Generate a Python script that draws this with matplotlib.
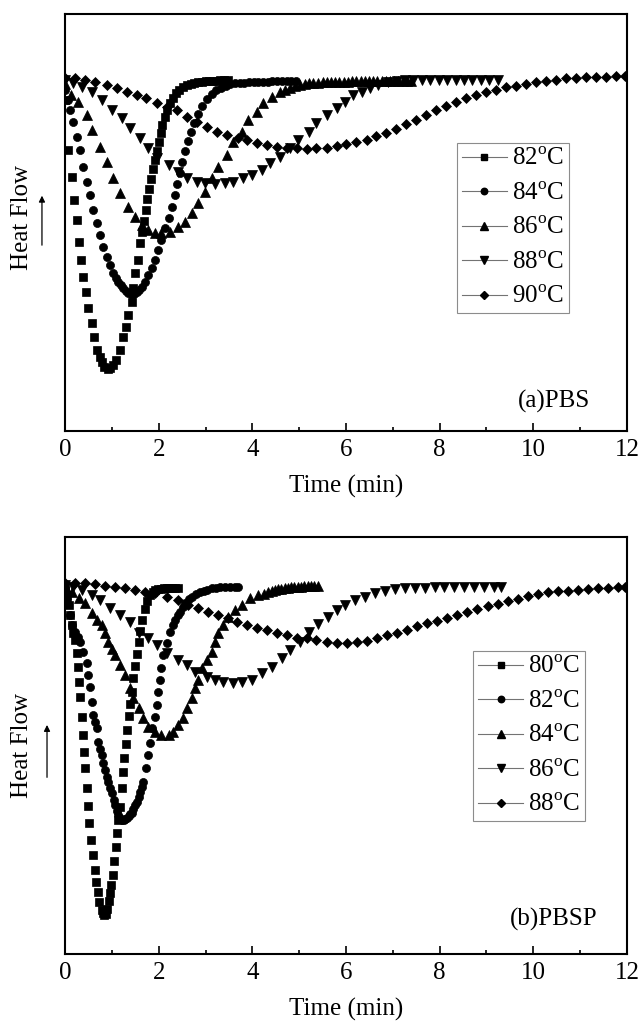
import matplotlib
matplotlib.use("Agg")
import matplotlib.pyplot as plt
from matplotlib.lines import Line2D
from matplotlib.ticker import MultipleLocator

plt.rcParams['font.family'] = ['Liberation Serif', 'DejaVu Serif']
plt.rcParams['mathtext.fontset'] = 'custom'
plt.rcParams['mathtext.rm'] = 'Liberation Serif'

# ---- (a) PBS, heat flow in arbitrary units (exo down) ----
pbs_labels = ["82", "84", "86", "88", "90"]

t_pbs_82 = [0.00, 0.07, 0.14, 0.19, 0.25, 0.30, 0.34, 0.39, 0.45, 0.50, 0.57, 0.62, 0.69, 0.74, 0.78,
            0.84, 0.91, 0.97, 1.02, 1.09, 1.17, 1.24, 1.30, 1.35, 1.42, 1.46, 1.49, 1.55, 1.60, 1.64,
            1.68, 1.72, 1.76, 1.80, 1.84, 1.88, 1.92, 1.96, 2.00, 2.04, 2.08, 2.13, 2.18, 2.24, 2.30,
            2.37, 2.44, 2.52, 2.60, 2.68, 2.76, 2.84, 2.92, 3.00, 3.08, 3.16, 3.24, 3.32, 3.40, 3.48]
hf_pbs_82 = [-2.0, -7.0, -9.7, -12.0, -14.0, -16.2, -18.0, -19.7, -21.2, -22.8, -24.3, -25.7, -27.0, -27.7, -28.2,
             -28.7, -28.9, -28.8, -28.5, -28.0, -27.0, -25.7, -24.7, -23.5, -22.2, -20.8, -19.3, -18.0, -16.3, -15.2,
             -14.1, -13.0, -11.9, -10.9, -9.9, -8.9, -8.0, -7.1, -6.2, -5.3, -4.5, -3.7, -3.0, -2.3, -1.8,
             -1.3, -1.0, -0.7, -0.5, -0.4, -0.3, -0.25, -0.2, -0.15, -0.12, -0.1, -0.08, -0.05, -0.03, 0.0]

t_pbs_84 = [0.00, 0.07, 0.11, 0.18, 0.25, 0.32, 0.39, 0.46, 0.53, 0.60, 0.68, 0.75, 0.82, 0.89, 0.96,
            1.03, 1.09, 1.14, 1.19, 1.24, 1.30, 1.35, 1.42, 1.48, 1.53, 1.59, 1.64, 1.71, 1.78, 1.85,
            1.92, 1.99, 2.06, 2.14, 2.21, 2.28, 2.35, 2.40, 2.45, 2.50, 2.56, 2.62, 2.69, 2.76, 2.84,
            2.93, 3.03, 3.13, 3.23, 3.33, 3.43, 3.53, 3.63, 3.73, 3.83, 3.93, 4.03, 4.13, 4.23, 4.33,
            4.43, 4.53, 4.63, 4.73, 4.83, 4.93]
hf_pbs_84 = [-1.0, -2.0, -3.0, -4.2, -5.7, -7.0, -8.7, -10.2, -11.5, -13.0, -14.3, -15.5, -16.7, -17.7, -18.5,
             -19.3, -19.8, -20.2, -20.5, -20.8, -21.1, -21.3, -21.5, -21.4, -21.2, -21.0, -20.7, -20.2, -19.5, -18.8,
             -18.0, -17.0, -16.0, -14.8, -13.8, -12.7, -11.5, -10.4, -9.3, -8.2, -7.1, -6.1, -5.2, -4.3, -3.4,
             -2.6, -1.9, -1.4, -1.0, -0.8, -0.6, -0.45, -0.35, -0.3, -0.27, -0.24, -0.22, -0.2, -0.18, -0.16,
             -0.14, -0.13, -0.12, -0.11, -0.1, -0.1]

t_pbs_86 = [0.00, 0.12, 0.28, 0.46, 0.58, 0.75, 0.89, 1.03, 1.17, 1.35, 1.49, 1.64, 1.78, 1.92, 2.06,
            2.24, 2.42, 2.56, 2.71, 2.85, 2.99, 3.13, 3.27, 3.45, 3.59, 3.77, 3.91, 4.09, 4.23, 4.41,
            4.59, 4.70, 4.80, 4.91, 5.02, 5.12, 5.21, 5.30, 5.40, 5.50, 5.59, 5.68, 5.77, 5.86, 5.95,
            6.04, 6.13, 6.22, 6.31, 6.40, 6.49, 6.58, 6.67, 6.76, 6.85, 6.94, 7.03, 7.12, 7.21, 7.30, 7.39]
hf_pbs_86 = [-0.4, -1.5, -2.2, -3.5, -5.0, -6.7, -8.2, -9.8, -11.3, -12.7, -13.7, -14.5, -15.0, -15.3, -15.3,
             -15.2, -14.7, -14.2, -13.3, -12.3, -11.2, -9.8, -8.7, -7.5, -6.2, -5.2, -4.0, -3.2, -2.3, -1.7,
             -1.2, -1.0, -0.8, -0.65, -0.5, -0.42, -0.35, -0.3, -0.26, -0.23, -0.2, -0.2, -0.19, -0.18, -0.17,
             -0.16, -0.15, -0.15, -0.14, -0.13, -0.12, -0.12, -0.11, -0.1, -0.1, -0.1, -0.1, -0.1, -0.1, -0.1, -0.1]

t_pbs_88 = [0.00, 0.18, 0.37, 0.57, 0.78, 1.00, 1.21, 1.39, 1.60, 1.78, 1.96, 2.21, 2.42, 2.60, 2.81,
            2.99, 3.20, 3.42, 3.59, 3.81, 3.99, 4.20, 4.38, 4.59, 4.80, 4.98, 5.20, 5.37, 5.59, 5.80,
            5.98, 6.16, 6.34, 6.51, 6.69, 6.90, 7.08, 7.26, 7.44, 7.62, 7.80, 7.98, 8.16, 8.34, 8.52,
            8.70, 8.88, 9.06, 9.24]
hf_pbs_88 = [0.0, -0.3, -0.7, -1.2, -2.0, -3.0, -3.8, -4.8, -5.8, -6.8, -7.8, -8.5, -9.2, -9.8, -10.2,
             -10.3, -10.4, -10.3, -10.2, -9.8, -9.5, -9.0, -8.3, -7.7, -6.8, -6.0, -5.2, -4.3, -3.5, -2.8,
             -2.2, -1.5, -1.2, -0.8, -0.5, -0.2, -0.1, -0.05, 0.0, 0.0, 0.0, 0.0, 0.0, 0.0, 0.0,
             0.0, 0.0, 0.0, 0.0]

t_pbs_90 = [0.00, 0.21, 0.43, 0.64, 0.89, 1.10, 1.32, 1.53, 1.74, 1.96, 2.17, 2.39, 2.61, 2.82, 3.03,
            3.24, 3.45, 3.70, 3.88, 4.09, 4.31, 4.52, 4.73, 4.95, 5.16, 5.37, 5.59, 5.80, 6.01, 6.22,
            6.44, 6.65, 6.86, 7.07, 7.29, 7.50, 7.71, 7.93, 8.14, 8.35, 8.57, 8.78, 8.99, 9.21, 9.42,
            9.63, 9.85, 10.06, 10.27, 10.49, 10.70, 10.91, 11.13, 11.34, 11.55, 11.77, 11.96]
hf_pbs_90 = [0.2, 0.2, 0.0, -0.2, -0.5, -0.8, -1.2, -1.5, -1.8, -2.3, -2.7, -3.0, -3.7, -4.2, -4.7,
             -5.2, -5.5, -5.8, -6.0, -6.3, -6.5, -6.7, -6.8, -6.8, -6.9, -6.8, -6.8, -6.65, -6.45, -6.25,
             -6.0, -5.6, -5.3, -4.9, -4.45, -4.0, -3.5, -3.0, -2.6, -2.2, -1.8, -1.5, -1.25, -1.05, -0.75,
             -0.6, -0.4, -0.25, -0.15, -0.05, 0.15, 0.2, 0.25, 0.3, 0.3, 0.35, 0.4]

# ---- (b) PBSP ----
pbsp_labels = ["80", "82", "84", "86", "88"]

t_pbsp_80 = [0.00, 0.04, 0.08, 0.11, 0.15, 0.18, 0.21, 0.25, 0.28, 0.30, 0.32, 0.36, 0.39, 0.41, 0.43,
             0.46, 0.50, 0.52, 0.55, 0.59, 0.63, 0.66, 0.70, 0.73, 0.78, 0.81, 0.84, 0.87, 0.90, 0.93,
             0.96, 0.99, 1.02, 1.05, 1.08, 1.11, 1.14, 1.17, 1.21, 1.24, 1.27, 1.30, 1.33, 1.36, 1.39,
             1.42, 1.46, 1.49, 1.53, 1.57, 1.61, 1.65, 1.70, 1.75, 1.81, 1.87, 1.93, 1.99, 2.05, 2.11,
             2.17, 2.23, 2.29, 2.35, 2.41]
hf_pbsp_80 = [-0.3, -1.0, -2.0, -3.0, -4.0, -4.8, -5.5, -6.8, -8.2, -9.7, -11.2, -13.2, -15.0, -16.7, -18.3,
              -20.3, -22.1, -23.8, -25.5, -27.0, -28.5, -29.7, -30.7, -31.7, -32.5, -32.8, -33.0, -32.9, -32.4, -31.6,
              -30.8, -30.0, -29.0, -27.6, -26.2, -24.8, -23.5, -22.2, -20.3, -18.7, -17.3, -15.9, -14.5, -13.1, -11.9,
              -10.7, -9.3, -8.1, -6.9, -5.7, -4.6, -3.5, -2.4, -1.6, -1.0, -0.7, -0.5, -0.4, -0.35, -0.3,
              -0.3, -0.3, -0.3, -0.3, -0.3]

t_pbsp_82 = [0.00, 0.05, 0.10, 0.15, 0.21, 0.27, 0.32, 0.39, 0.46, 0.50, 0.53, 0.57, 0.60, 0.64, 0.68,
             0.71, 0.75, 0.78, 0.82, 0.85, 0.89, 0.92, 0.96, 1.00, 1.04, 1.07, 1.11, 1.14, 1.18, 1.21,
             1.25, 1.29, 1.32, 1.36, 1.39, 1.42, 1.46, 1.50, 1.53, 1.57, 1.60, 1.64, 1.67, 1.72, 1.77,
             1.82, 1.86, 1.92, 1.96, 1.99, 2.03, 2.06, 2.10, 2.17, 2.24, 2.30, 2.35, 2.41, 2.46, 2.51,
             2.56, 2.64, 2.71, 2.80, 2.88, 2.96, 3.04, 3.13, 3.22, 3.31, 3.42, 3.52, 3.62, 3.70]
hf_pbsp_82 = [-0.3, -1.5, -3.0, -4.0, -4.7, -5.2, -5.7, -6.7, -7.8, -9.0, -10.2, -11.7, -13.0, -13.7, -14.3,
              -15.7, -16.4, -17.0, -17.8, -18.5, -19.2, -19.7, -20.3, -20.8, -21.5, -22.0, -22.6, -23.0, -23.3, -23.5,
              -23.5, -23.4, -23.3, -23.1, -22.9, -22.8, -22.4, -22.0, -21.7, -21.2, -20.7, -20.2, -19.7, -18.3, -17.0,
              -15.8, -14.3, -13.2, -12.0, -10.7, -9.5, -8.3, -7.0, -5.8, -4.7, -4.0, -3.5, -3.0, -2.7, -2.2,
              -1.8, -1.4, -1.2, -0.9, -0.7, -0.55, -0.45, -0.3, -0.25, -0.2, -0.2, -0.2, -0.2, -0.2]

t_pbsp_84 = [0.00, 0.15, 0.30, 0.43, 0.57, 0.68, 0.78, 0.85, 0.92, 1.00, 1.07, 1.17, 1.28, 1.39, 1.46,
             1.57, 1.67, 1.78, 1.92, 2.06, 2.21, 2.31, 2.42, 2.53, 2.60, 2.71, 2.78, 2.85, 2.92, 3.03,
             3.13, 3.20, 3.27, 3.38, 3.49, 3.63, 3.77, 3.95, 4.13, 4.24, 4.34, 4.41, 4.48, 4.55, 4.62,
             4.69, 4.76, 4.83, 4.90, 4.97, 5.04, 5.11, 5.18, 5.25, 5.32, 5.40]
hf_pbsp_84 = [-0.1, -0.7, -1.3, -1.8, -2.8, -3.5, -4.0, -4.8, -5.7, -6.4, -7.0, -8.0, -9.0, -10.3, -11.3,
              -12.3, -13.3, -14.2, -14.7, -15.0, -15.0, -14.7, -14.0, -13.3, -12.3, -11.3, -10.3, -9.5, -8.3, -7.5,
              -6.7, -5.7, -4.8, -4.0, -3.2, -2.5, -2.0, -1.3, -1.0, -0.85, -0.7, -0.6, -0.5, -0.42, -0.35,
              -0.3, -0.26, -0.22, -0.2, -0.17, -0.15, -0.13, -0.12, -0.1, -0.1, -0.1]

t_pbsp_86 = [0.00, 0.18, 0.36, 0.57, 0.75, 0.96, 1.17, 1.39, 1.57, 1.78, 1.96, 2.17, 2.42, 2.60, 2.78,
             3.03, 3.20, 3.38, 3.59, 3.77, 3.99, 4.20, 4.42, 4.63, 4.80, 5.02, 5.20, 5.41, 5.62, 5.80,
             5.98, 6.19, 6.41, 6.62, 6.83, 7.05, 7.26, 7.47, 7.68, 7.89, 8.10, 8.31, 8.52, 8.73, 8.94,
             9.15, 9.30]
hf_pbsp_86 = [0.0, -0.2, -0.5, -1.0, -1.5, -2.3, -3.0, -3.7, -4.8, -5.3, -6.0, -6.8, -7.5, -8.0, -8.7,
              -9.2, -9.5, -9.7, -9.8, -9.7, -9.5, -8.8, -8.2, -7.3, -6.5, -5.7, -4.7, -3.9, -3.2, -2.5,
              -2.0, -1.5, -1.2, -0.8, -0.6, -0.4, -0.3, -0.25, -0.25, -0.2, -0.2, -0.2, -0.2, -0.2, -0.2,
              -0.2, -0.2]

t_pbsp_88 = [0.00, 0.21, 0.43, 0.64, 0.85, 1.07, 1.28, 1.49, 1.71, 1.92, 2.17, 2.42, 2.63, 2.85, 3.06,
             3.27, 3.49, 3.67, 3.88, 4.09, 4.31, 4.52, 4.73, 4.95, 5.16, 5.37, 5.59, 5.81, 6.02, 6.24,
             6.45, 6.66, 6.88, 7.09, 7.30, 7.52, 7.73, 7.94, 8.16, 8.37, 8.58, 8.80, 9.03, 9.25, 9.46,
             9.67, 9.89, 10.10, 10.31, 10.53, 10.74, 10.95, 11.17, 11.38, 11.60, 11.81, 11.96]
hf_pbsp_88 = [0.2, 0.2, 0.2, 0.1, -0.1, -0.2, -0.3, -0.5, -0.7, -0.8, -1.2, -1.5, -2.0, -2.3, -2.7,
              -3.0, -3.3, -3.7, -4.0, -4.3, -4.5, -4.8, -5.0, -5.3, -5.3, -5.5, -5.65, -5.8, -5.8, -5.7,
              -5.55, -5.25, -5.0, -4.75, -4.45, -4.1, -3.75, -3.55, -3.25, -2.95, -2.65, -2.4, -2.1, -1.85, -1.6,
              -1.35, -1.1, -0.9, -0.73, -0.63, -0.55, -0.45, -0.37, -0.3, -0.25, -0.2, -0.17]

markers = ['s', 'o', '^', 'v', 'D']
msizes = [5.2, 5.8, 6.6, 6.6, 5.6]


def draw_panel(ax, times, flows, labels, ylim, tag, tag_xy, leg_xy, text_y, arrow_x, arrow_y):
    for i in range(len(times)):
        ax.plot(times[i], flows[i], linestyle='none', marker=markers[i], ms=msizes[i],
                mfc='k', mec='k', mew=0.5)
    ax.set_xlim(0, 12)
    ax.set_ylim(ylim)
    ax.set_yticks([])
    ax.xaxis.set_major_locator(MultipleLocator(2))
    ax.xaxis.set_minor_locator(MultipleLocator(1))
    ax.tick_params(axis='x', which='both', direction='in', labelsize=18, pad=6, width=1.2)
    ax.tick_params(axis='x', which='major', length=6)
    ax.tick_params(axis='x', which='minor', length=3)
    for sp in ax.spines.values():
        sp.set_linewidth(1.5)
    ax.set_xlabel('Time (min)', fontsize=18, labelpad=10)

    handles = []
    for i in range(len(labels)):
        handles.append(Line2D([], [], color='0.45', lw=0.8, marker=markers[i], ms=msizes[i] * 0.8,
                              mfc='k', mec='k'))
    names = [lab + r'$^{\mathrm{o}}$C' for lab in labels]
    leg = ax.legend(handles, names, loc='upper left', bbox_to_anchor=leg_xy, borderaxespad=0,
                    fontsize=18, handlelength=1.8, handletextpad=0.2, labelspacing=0.48,
                    borderpad=0.2, fancybox=False, framealpha=1)
    leg.get_frame().set_edgecolor('0.55')
    leg.get_frame().set_linewidth(0.8)

    ax.text(tag_xy[0], tag_xy[1], tag, transform=ax.transAxes, ha='right', va='center', fontsize=18)
    ax.text(-0.0765, text_y, 'Heat Flow', transform=ax.transAxes, rotation=90,
            ha='center', va='center', fontsize=18)
    ax.annotate('', xy=(arrow_x, arrow_y[1]), xytext=(arrow_x, arrow_y[0]),
                xycoords='axes fraction', textcoords='axes fraction', annotation_clip=False,
                arrowprops=dict(arrowstyle='-|>', color='k', lw=0.9, mutation_scale=9))


fig = plt.figure(figsize=(6.42, 10.29), dpi=100)
ax1 = fig.add_axes([65 / 642, 1 - 431 / 1029, 562 / 642, 417 / 1029])
ax2 = fig.add_axes([65 / 642, 1 - 954 / 1029, 562 / 642, 417 / 1029])

draw_panel(ax1,
           [t_pbs_82, t_pbs_84, t_pbs_86, t_pbs_88, t_pbs_90],
           [hf_pbs_82, hf_pbs_84, hf_pbs_86, hf_pbs_88, hf_pbs_90],
           pbs_labels, (-35.1, 6.6), '(a)PBS', (0.934, 0.07), (0.697, 0.691),
           0.513, -0.041, (0.439, 0.571))
draw_panel(ax2,
           [t_pbsp_80, t_pbsp_82, t_pbsp_84, t_pbsp_86, t_pbsp_88],
           [hf_pbsp_80, hf_pbsp_82, hf_pbsp_84, hf_pbsp_86, hf_pbsp_88],
           pbsp_labels, (-36.9, 4.8), '(b)PBSP', (0.947, 0.082), (0.726, 0.727),
           0.501, -0.032, (0.417, 0.556))

fig.savefig('out.png', dpi=100)
